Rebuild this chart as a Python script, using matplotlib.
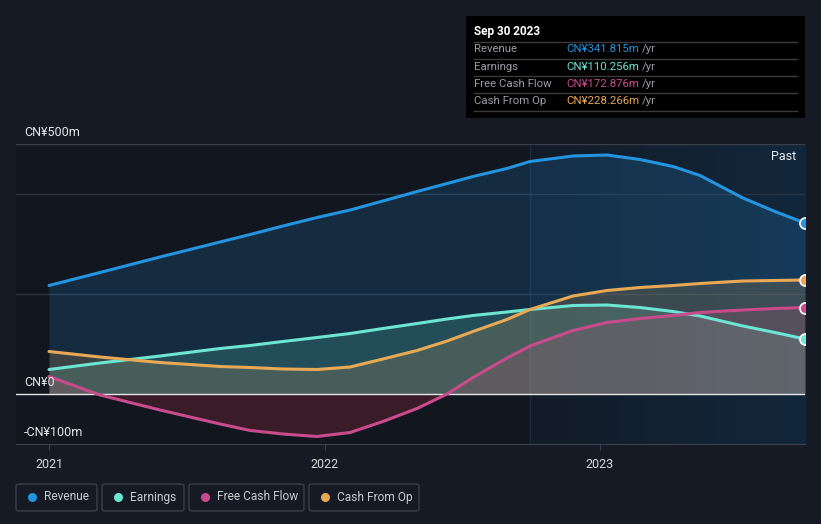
import numpy as np
import matplotlib.pyplot as plt
from matplotlib.colors import LinearSegmentedColormap
from matplotlib.patches import FancyBboxPatch, Rectangle

plt.rcParams['font.family'] = ['Roboto', 'DejaVu Sans']

# decimal years, values in CN¥ m
years = [2021.0, 2021.185, 2021.403, 2021.621, 2021.73, 2021.849, 2021.973, 2022.093,
         2022.212, 2022.336, 2022.445, 2022.539, 2022.662, 2022.746, 2022.902, 2023.025,
         2023.145, 2023.265, 2023.363, 2023.519, 2023.635, 2023.744]
revenue = [217, 243, 274, 304, 319, 336, 353, 368, 386, 405, 421, 435, 451, 465, 476, 478,
           469, 455, 437, 392, 365, 342]
earnings = [49, 62, 76, 91, 97, 105, 113, 121, 131, 141, 150, 157, 164, 169, 177, 178,
            173, 165, 156, 136, 123, 110]
fcf = [35, -2, -32, -60, -73, -80, -85, -77, -55, -29, 0, 33, 72, 96, 127, 143,
       151, 157, 163, 168, 171, 173]
cfo = [85, 74, 63, 55, 53, 50, 49, 54, 70, 87, 106, 125, 149, 169, 196, 207,
       213, 217, 221, 226, 227, 228]

names = ['Revenue', 'Earnings', 'Free Cash Flow', 'Cash From Op']
colors = ['#2394df', '#6ce5d3', '#c94b8c', '#e8a955']
series = [revenue, earnings, fcf, cfo]
last_vals = ['CN¥341.815m', 'CN¥110.256m', 'CN¥172.876m', 'CN¥228.266m']
xticks = [2021, 2022, 2023]
past_start = 2022.745

W, H = 821, 524
bg = '#151a24'
fig = plt.figure(figsize=(W / 100, H / 100), dpi=100, facecolor=bg)

def fx(px):
    return px / W

def fy(py):
    return 1 - py / H

ax = fig.add_axes([fx(16), fy(444), fx(805) - fx(16), fy(144) - fy(444)])
ax.set_facecolor('#12161e')
x0 = 2021 - 33 / 275.5
x1 = 2021 + (805 - 49) / 275.5
ax.set_xlim(x0, x1)
ax.set_ylim(-100, 500)

# past region gradient
cmap = LinearSegmentedColormap.from_list('past', ['#121b27', '#13273c'])
ax.imshow(np.linspace(0, 1, 100).reshape(1, -1), cmap=cmap, aspect='auto',
          extent=[past_start, x1, -100, 500], zorder=0)
ax.axvline(past_start, color='#1a2b3c', lw=1, zorder=0.5)

for yv in [400, 200]:
    ax.axhline(yv, color='#2a3340', lw=1, zorder=0.6)
ax.axhline(500, color='#3b3f47', lw=1, zorder=0.6)

x = np.array(years)
for vals, c in zip(series, colors):
    v = np.array(vals)
    ax.fill_between(x, v, 0, where=v >= 0, interpolate=True, color=c, alpha=0.18, lw=0, zorder=1)
    if c == '#c94b8c':
        ax.fill_between(x, v, 0, where=v < 0, interpolate=True, color='#6b2438', alpha=0.45, lw=0, zorder=1)

for vals, c in zip(series, colors):
    ax.plot(x, vals, color=c, lw=2.2, zorder=3, solid_capstyle='round', solid_joinstyle='round')
    ax.plot(x[-1], vals[-1], 'o', ms=8, mfc=c, mec='white', mew=1.2, zorder=4)

ax.axhline(0, color='#e6e6e6', lw=1, zorder=2.5)

for s in ['top', 'right', 'left']:
    ax.spines[s].set_visible(False)
ax.spines['bottom'].set_color('#3c414b')
ax.set_yticks([])
ax.set_xticks(xticks)
ax.set_xticklabels([str(t) for t in xticks], color='#d6d9de', fontsize=9)
ax.tick_params(axis='x', colors='#3c414b', length=4, labelcolor='#d6d9de', pad=6)

ax.text(x1 - 0.03, 476, 'Past', color='#e8eaed', fontsize=9, ha='right', va='center', zorder=5)

for lab, py in [('CN¥500m', 132), ('CN¥0', 382), ('-CN¥100m', 432)]:
    fig.text(fx(24), fy(py), lab, color='#e4e6ea', fontsize=9, va='center', ha='left', zorder=6)

# tooltip box
fig.patches.append(Rectangle((fx(466), fy(118)), fx(805) - fx(466), fy(16) - fy(118),
                             transform=fig.transFigure, facecolor='#000000', edgecolor='none', zorder=5))
fig.text(fx(474), fy(31), 'Sep 30 2023', color='white', fontsize=8.5, fontweight='bold',
         va='center', ha='left', zorder=6)
for py in [41.5, 58.5, 76, 93, 110.5]:
    fig.add_artist(plt.Line2D([fx(474), fx(797)], [fy(py), fy(py)], color='#3a3a3a', lw=1,
                              transform=fig.transFigure, zorder=6))
for i, (n, c, v) in enumerate(zip(names, colors, last_vals)):
    py = 49.5 + i * 17.3
    fig.text(fx(474), fy(py), n, color='#9a9ea5', fontsize=8.2, va='center', ha='left', zorder=7)
    fig.text(fx(566), fy(py), v, color=c, fontsize=8.2, va='center', ha='left', zorder=7)
    fig.text(fx(642), fy(py), '/yr', color='#9a9ea5', fontsize=8.2, va='center', ha='left', zorder=7)

# legend
boxes = [(16, 97), (102, 184), (189, 304), (309, 419)]
for (l, r), n, c in zip(boxes, names, colors):
    fig.patches.append(FancyBboxPatch((fx(l), fy(511)), fx(r) - fx(l), fy(484) - fy(511),
                                      boxstyle='round,pad=0,rounding_size=0.004',
                                      transform=fig.transFigure, facecolor='none',
                                      edgecolor='#3a3f4a', lw=1, zorder=5))
    fig.add_artist(plt.Line2D([fx(l + 16)], [fy(497)], marker='o', ms=6.5, color=c, mec='none',
                              transform=fig.transFigure, zorder=6))
    fig.text(fx(l + 28), fy(497), n, color='#c8ccd2', fontsize=8.6, va='center', ha='left', zorder=6)

fig.savefig('out.png', dpi=100, facecolor=bg)
